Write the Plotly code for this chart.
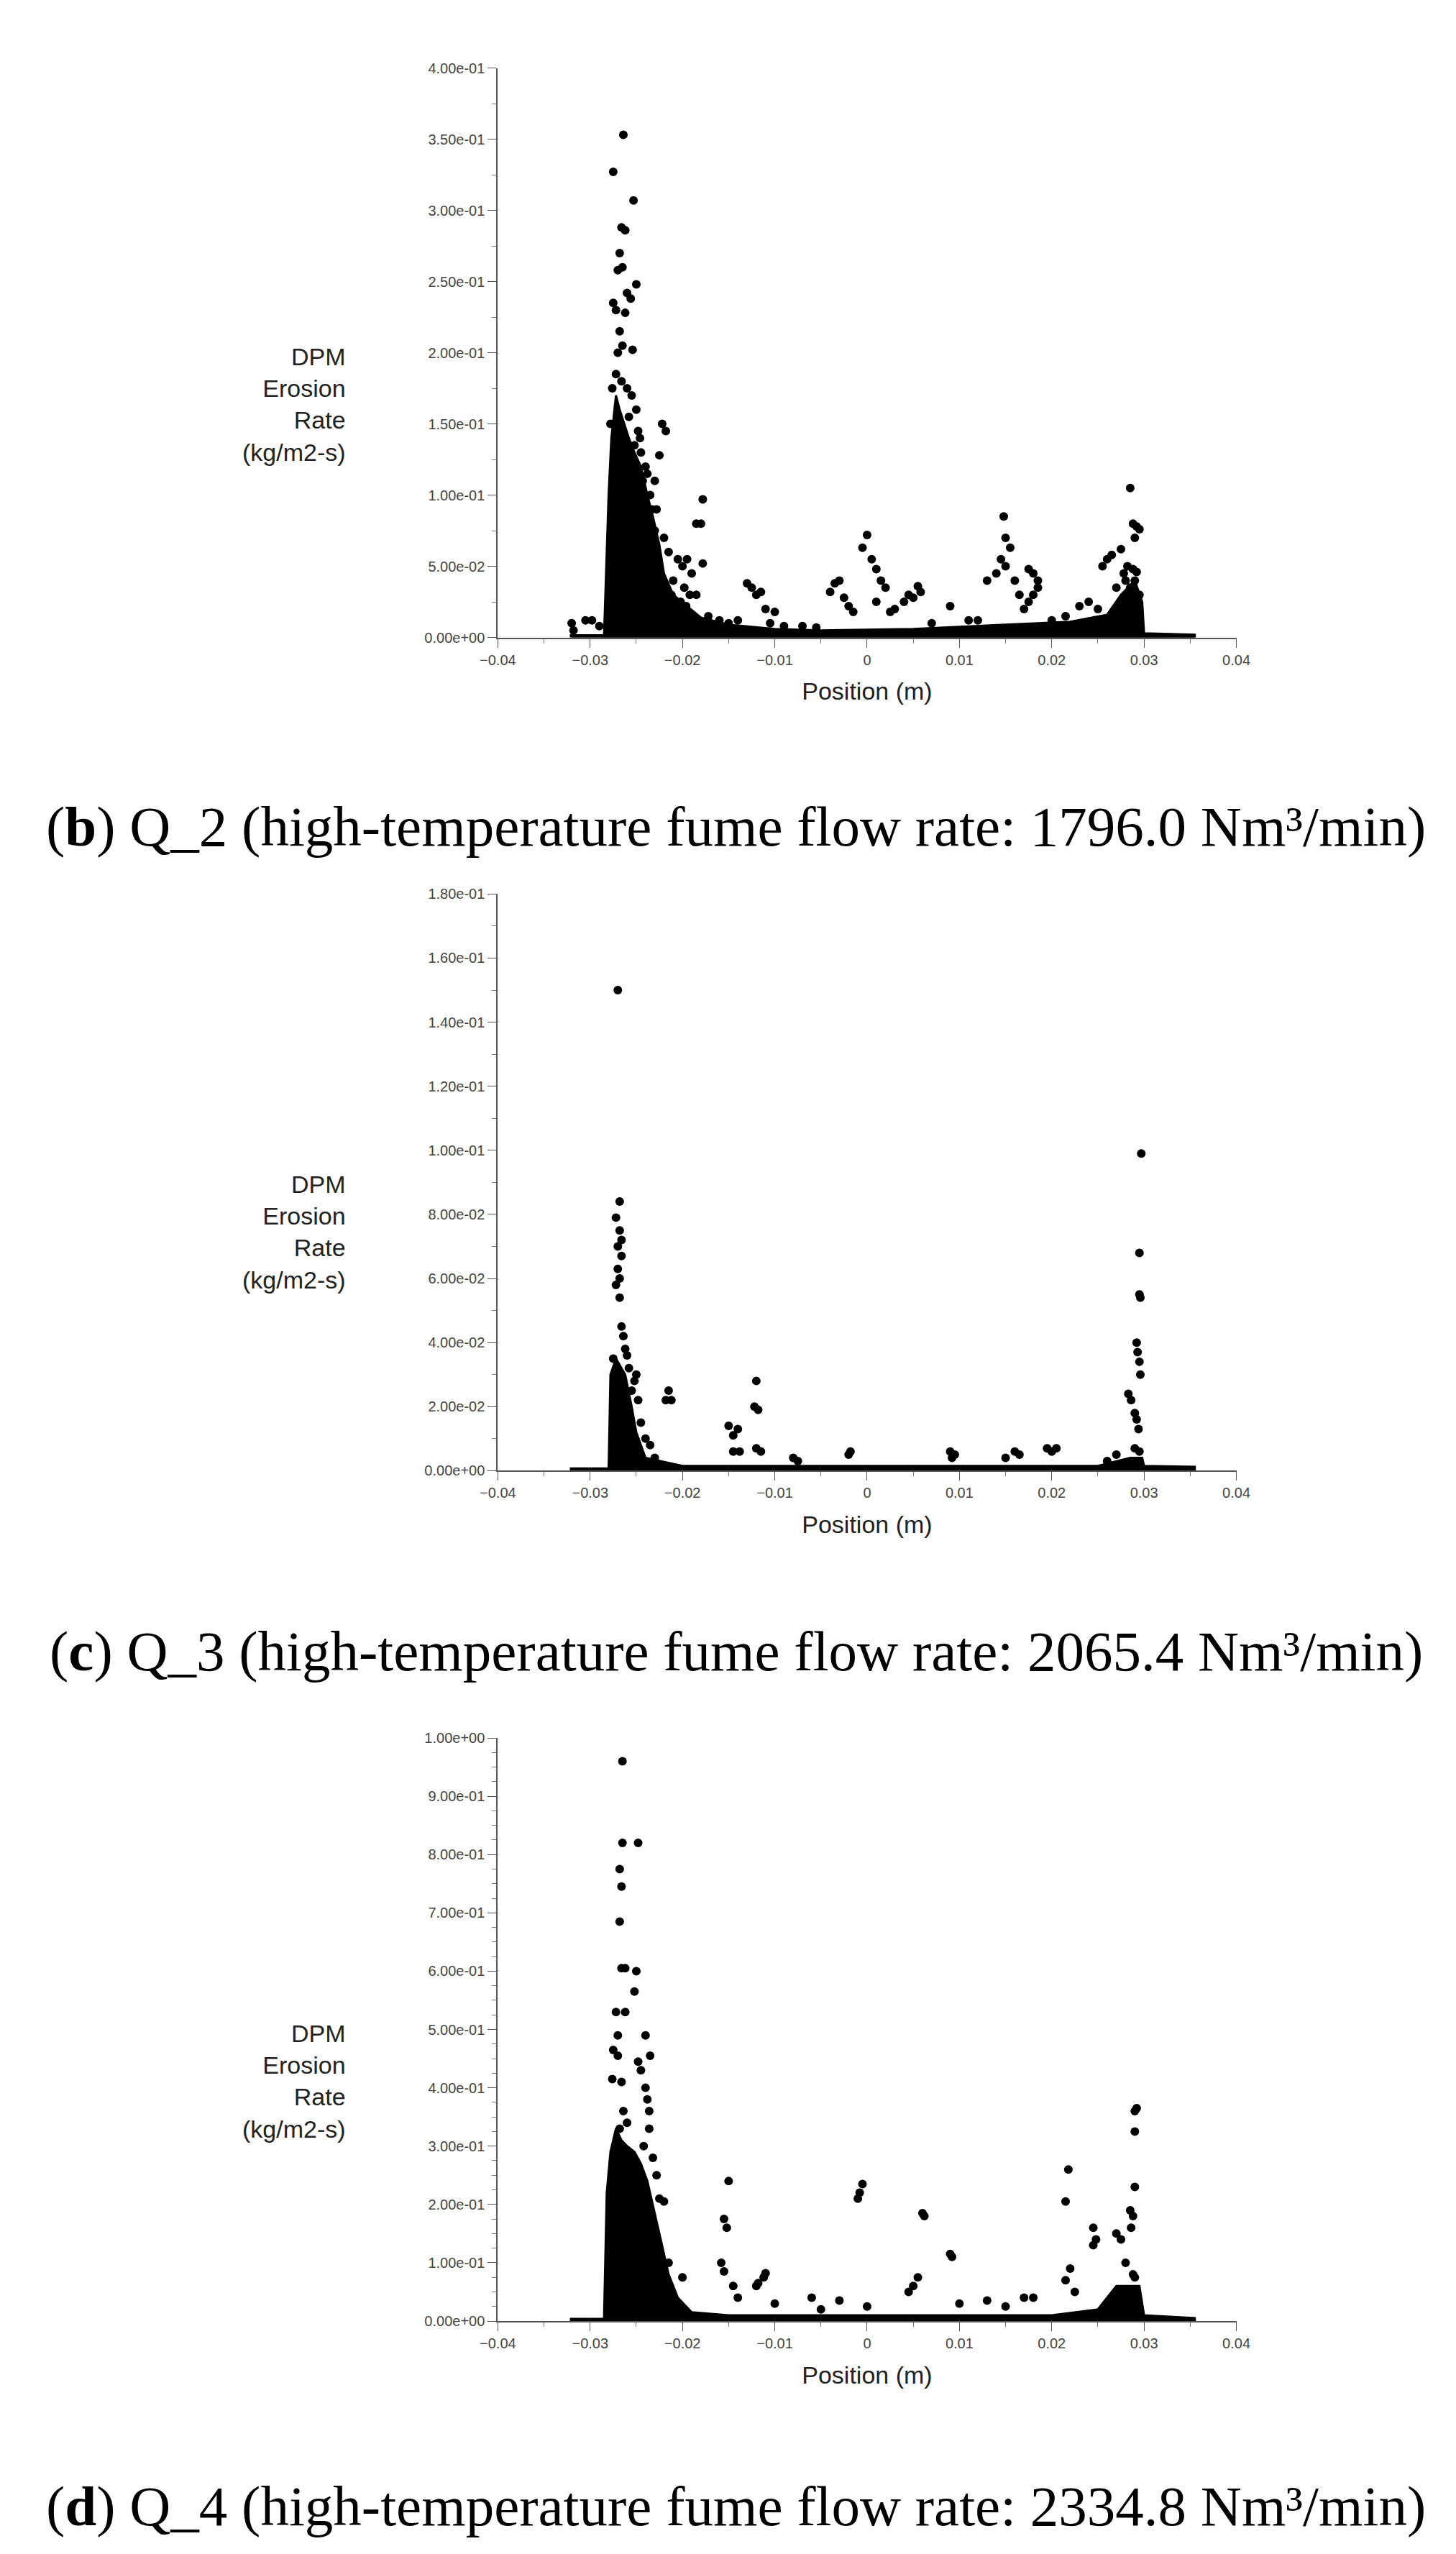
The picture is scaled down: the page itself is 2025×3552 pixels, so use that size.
import plotly.graph_objects as go

# ---- data ----
xb = [-0.0320,-0.0318,-0.0305,-0.0298,-0.0290,
      -0.0264,-0.0275,-0.0253,-0.0266,-0.0262,-0.0268,-0.0265,-0.0270,-0.0250,-0.0260,-0.0256,-0.0275,-0.0272,-0.0262,-0.0268,-0.0265,-0.0254,-0.0270,-0.0272,-0.0266,-0.0260,-0.0255,
      -0.0250,-0.0245,-0.0240,-0.0235,-0.0258,-0.0248,-0.0243,-0.0238,-0.0233,-0.0230,-0.0278,-0.0276,-0.0252,-0.0246,
      -0.0222,-0.0218,-0.0225,-0.0230,-0.0228,-0.0220,-0.0215,-0.0205,-0.0200,-0.0195,-0.0190,-0.0185,-0.0180,-0.0178,-0.0178,-0.0198,-0.0192,-0.0185,-0.0210,-0.0212,-0.0202,-0.0196,-0.0172,-0.0160,-0.0150,-0.0140,
      -0.0130,-0.0125,-0.0120,-0.0115,-0.0110,-0.0100,-0.0105,-0.0090,-0.0070,-0.0055,
      -0.0040,-0.0035,-0.0030,-0.0025,-0.0020,-0.0015,-0.0005,0.0000,0.0005,0.0010,0.0015,0.0020,0.0010,0.0030,0.0040,0.0045,0.0050,0.0055,0.0058,0.0025,
      0.0070,0.0090,0.0110,0.0130,0.0140,0.0145,0.0150,0.0148,0.0155,0.0150,0.0160,0.0165,0.0170,0.0175,0.0180,0.0185,0.0185,0.0180,0.0175,0.0120,0.0200,0.0215,
      0.0230,0.0240,0.0250,0.0255,0.0260,0.0265,0.0275,0.0280,0.0285,0.0288,0.0292,0.0295,0.0290,0.0288,0.0292,0.0290,0.0285,0.0295,0.0270,0.0278,0.0282]
yb = [0.010,0.005,0.012,0.012,0.008,
      0.353,0.327,0.307,0.288,0.286,0.270,0.260,0.258,0.248,0.242,0.238,0.235,0.230,0.228,0.215,0.205,0.202,0.200,0.185,0.180,0.175,0.170,
      0.160,0.130,0.120,0.100,0.155,0.145,0.110,0.115,0.090,0.075,0.150,0.175,0.135,0.140,
      0.150,0.145,0.128,0.110,0.090,0.070,0.060,0.055,0.050,0.055,0.045,0.080,0.080,0.097,0.052,0.035,0.030,0.030,0.040,0.030,0.025,0.022,0.015,0.012,0.010,0.012,
      0.038,0.035,0.030,0.032,0.020,0.018,0.010,0.008,0.008,0.007,
      0.032,0.038,0.040,0.028,0.022,0.018,0.063,0.072,0.055,0.048,0.040,0.035,0.025,0.020,0.025,0.030,0.028,0.036,0.032,0.018,
      0.010,0.022,0.012,0.040,0.045,0.055,0.070,0.085,0.063,0.050,0.040,0.030,0.020,0.048,0.045,0.040,0.035,0.030,0.025,0.012,0.012,0.015,
      0.022,0.025,0.020,0.050,0.055,0.058,0.062,0.040,0.105,0.080,0.078,0.076,0.070,0.048,0.046,0.040,0.035,0.030,0.035,0.045,0.050]
core_xb = [-0.0285,-0.0280,-0.0277,-0.0272,-0.0268,-0.0263,-0.0258,-0.0252,-0.0245,-0.0238,-0.0232,-0.0225,-0.0220,-0.0210,-0.0195,-0.0180,-0.0150,-0.0100,-0.005,0.005,0.015,0.022,0.026,0.0275,0.029,0.0298,0.0300,0.0355,0.0355,-0.032]
core_yb = [0.0,0.10,0.14,0.17,0.16,0.15,0.14,0.13,0.12,0.10,0.085,0.065,0.045,0.03,0.022,0.014,0.009,0.006,0.005,0.006,0.009,0.011,0.016,0.03,0.04,0.025,0.003,0.002,0.0,0.0]

xc = [-0.0270,-0.0268,-0.0272,-0.0268,-0.0266,-0.0270,-0.0266,-0.0270,-0.0268,-0.0272,-0.0268,-0.0266,-0.0264,-0.0262,-0.0260,-0.0275,-0.0258,-0.0250,-0.0252,-0.0255,-0.0248,-0.0215,-0.0218,-0.0212,-0.0245,-0.0240,-0.0235,-0.0230,
      -0.0150,-0.0145,-0.0140,-0.0145,-0.0138,-0.0120,-0.0122,-0.0118,-0.0120,-0.0115,-0.0080,-0.0075,-0.0020,-0.0018,
      0.0090,0.0092,0.0095,0.0150,0.0160,0.0165,0.0195,0.0200,0.0205,0.0260,0.0270,
      0.0283,0.0286,0.0290,0.0292,0.0294,0.0292,0.0293,0.0295,0.0296,0.0295,0.0296,0.0295,0.0297,0.0290,0.0295]
yc = [0.150,0.084,0.079,0.075,0.072,0.070,0.067,0.063,0.060,0.058,0.054,0.045,0.042,0.038,0.036,0.035,0.032,0.030,0.028,0.025,0.022,0.025,0.022,0.022,0.015,0.010,0.008,0.004,
      0.014,0.011,0.013,0.006,0.006,0.028,0.020,0.019,0.007,0.006,0.004,0.003,0.005,0.006,
      0.006,0.004,0.005,0.004,0.006,0.005,0.007,0.006,0.007,0.003,0.005,
      0.024,0.022,0.018,0.016,0.013,0.040,0.037,0.034,0.030,0.055,0.054,0.068,0.099,0.007,0.006]
core_xc = [-0.0280,-0.0278,-0.0272,-0.0262,-0.0255,-0.0250,-0.0240,-0.0200,0.0250,0.0285,0.0298,0.0300,0.0355,0.0355,-0.032]
core_yc = [0.0,0.03,0.035,0.03,0.02,0.012,0.004,0.0015,0.0015,0.004,0.004,0.0015,0.0012,0.0,0.0]

xd = [-0.0265,-0.0265,-0.0248,-0.0268,-0.0266,-0.0268,-0.0266,-0.0262,-0.0250,-0.0252,-0.0272,-0.0262,-0.0270,-0.0240,-0.0275,-0.0270,-0.0235,-0.0248,-0.0245,-0.0276,-0.0266,-0.0240,-0.0238,-0.0236,-0.0264,-0.0260,-0.0268,-0.0236,-0.0242,-0.0232,-0.0228,-0.0225,-0.0220,-0.0215,-0.0200,
      -0.0150,-0.0155,-0.0152,-0.0158,-0.0155,-0.0145,-0.0140,-0.0110,-0.0112,-0.0118,-0.0120,-0.0100,-0.0060,-0.0050,-0.0010,-0.0008,-0.0005,-0.0030,0.0000,0.0045,0.0050,0.0055,0.0060,0.0062,0.0090,0.0092,0.0100,0.0130,0.0150,0.0170,0.0180,
      0.0215,0.0218,0.0220,0.0215,0.0225,0.0245,0.0248,0.0245,0.0270,0.0275,0.0280,0.0285,0.0288,0.0286,0.0290,0.0290,0.0290,0.0292,0.0288,0.0290]
yd = [0.96,0.82,0.82,0.775,0.745,0.685,0.605,0.605,0.600,0.565,0.530,0.530,0.490,0.490,0.465,0.455,0.455,0.445,0.430,0.415,0.410,0.400,0.380,0.360,0.360,0.340,0.330,0.330,0.300,0.280,0.250,0.210,0.205,0.100,0.075,
      0.240,0.175,0.160,0.100,0.085,0.060,0.040,0.082,0.075,0.065,0.060,0.030,0.040,0.020,0.210,0.220,0.235,0.035,0.025,0.050,0.060,0.075,0.185,0.180,0.115,0.110,0.030,0.035,0.025,0.040,0.040,
      0.205,0.260,0.090,0.070,0.050,0.160,0.140,0.130,0.150,0.140,0.100,0.190,0.180,0.160,0.230,0.325,0.360,0.365,0.080,0.075]
core_xd = [-0.0285,-0.0282,-0.0278,-0.0272,-0.0266,-0.0260,-0.0252,-0.0245,-0.0238,-0.0232,-0.0225,-0.0215,-0.0205,-0.0190,-0.0150,0.020,0.025,0.027,0.0295,0.0300,0.0355,0.0355,-0.032]
core_yd = [0.0,0.22,0.29,0.33,0.31,0.30,0.29,0.27,0.24,0.20,0.15,0.08,0.04,0.015,0.01,0.01,0.02,0.06,0.06,0.01,0.005,0.0,0.0]

base_x = [-0.0322, 0.0355]
base_y = [0.0, 0.0]

x_ticks = [-0.04,-0.03,-0.02,-0.01,0,0.01,0.02,0.03,0.04]
x_labels = ["\u22120.04","\u22120.03","\u22120.02","\u22120.01","0","0.01","0.02","0.03","0.04"]
yb_ticks = [0,0.05,0.10,0.15,0.20,0.25,0.30,0.35,0.40]
yb_labels = ["0.00e+00","5.00e-02","1.00e-01","1.50e-01","2.00e-01","2.50e-01","3.00e-01","3.50e-01","4.00e-01"]
yc_ticks = [0,0.02,0.04,0.06,0.08,0.10,0.12,0.14,0.16,0.18]
yc_labels = ["0.00e+00","2.00e-02","4.00e-02","6.00e-02","8.00e-02","1.00e-01","1.20e-01","1.40e-01","1.60e-01","1.80e-01"]
yd_ticks = [0,0.1,0.2,0.3,0.4,0.5,0.6,0.7,0.8,0.9,1.0]
yd_labels = ["0.00e+00","1.00e-01","2.00e-01","3.00e-01","4.00e-01","5.00e-01","6.00e-01","7.00e-01","8.00e-01","9.00e-01","1.00e+00"]
captions = ["(<b>b</b>) Q_2 (high-temperature fume flow rate: 1796.0 Nm³/min)",
            "(<b>c</b>) Q_3 (high-temperature fume flow rate: 2065.4 Nm³/min)",
            "(<b>d</b>) Q_4 (high-temperature fume flow rate: 2334.8 Nm³/min)"]

W, H = 2025, 3552
fig = go.Figure()
panels = [
    (xb, yb, core_xb, core_yb, 0.4, yb_ticks, yb_labels, 0.025, (76, 873), 1138, 547),
    (xc, yc, core_xc, core_yc, 0.18, yc_ticks, yc_labels, 0.01, (1232, 2039), 2292, 1705),
    (xd, yd, core_xd, core_yd, 1.0, yd_ticks, yd_labels, 0.025, (2413, 3229), 3488, 2893),
]
tickfont = dict(family="Liberation Sans", size=20, color="#444")
for i, (px, py, cx, cy, ymax, yt, yl, ymin_dt, (top, bot), cap, ttl) in enumerate(panels):
    n = "" if i == 0 else str(i + 1)
    xa, ya = "x" + n, "y" + n
    fig.add_trace(go.Scatter(x=cx, y=cy, mode="lines", fill="toself", fillcolor="black",
                             line=dict(color="black", width=3), xaxis=xa, yaxis=ya, hoverinfo="skip"))
    fig.add_trace(go.Scatter(x=base_x, y=base_y, mode="lines", line=dict(color="black", width=9),
                             xaxis=xa, yaxis=ya))
    fig.add_trace(go.Scatter(x=px, y=py, mode="markers", marker=dict(color="black", size=12),
                             xaxis=xa, yaxis=ya))
    dom_y = [1 - bot / H, 1 - top / H]
    fig.layout["xaxis" + n] = dict(domain=[674 / W, 1724 / W], range=[-0.04, 0.04], anchor=ya,
        tickvals=x_ticks, ticktext=x_labels, ticks="outside", ticklen=12, tickcolor="#555",
        showline=True, linecolor="#555", linewidth=2, showgrid=False, zeroline=False,
        minor=dict(dtick=0.005, ticks="outside", ticklen=6, tickcolor="#777"),
        tickfont=tickfont, title=dict(text="Position (m)", font=dict(family="Liberation Sans", size=34, color="#222"), standoff=22))
    fig.layout["yaxis" + n] = dict(domain=dom_y, range=[0, ymax], anchor=xa,
        tickvals=yt, ticktext=yl, ticks="outside", ticklen=12, tickcolor="#555",
        showline=True, linecolor="#555", linewidth=2, showgrid=False, zeroline=False,
        minor=dict(dtick=ymin_dt, ticks="outside", ticklen=6, tickcolor="#777"),
        tickfont=tickfont)
    fig.add_annotation(text="DPM<br>Erosion<br>Rate<br>(kg/m2-s)", xref="paper", yref="paper",
        x=460 / W, y=1 - ttl / H, xanchor="right", yanchor="middle", align="right",
        showarrow=False, font=dict(family="Liberation Sans", size=34, color="#222"))
    fig.add_annotation(text=captions[i], xref="paper", yref="paper", x=0.5, y=1 - cap / H,
        xanchor="center", yanchor="middle", showarrow=False,
        font=dict(family="Liberation Serif", size=79, color="black"))

fig.update_layout(width=W, height=H, margin=dict(l=0, r=0, t=0, b=0), showlegend=False,
                  plot_bgcolor="white", paper_bgcolor="white")
fig.write_html("out.html")
